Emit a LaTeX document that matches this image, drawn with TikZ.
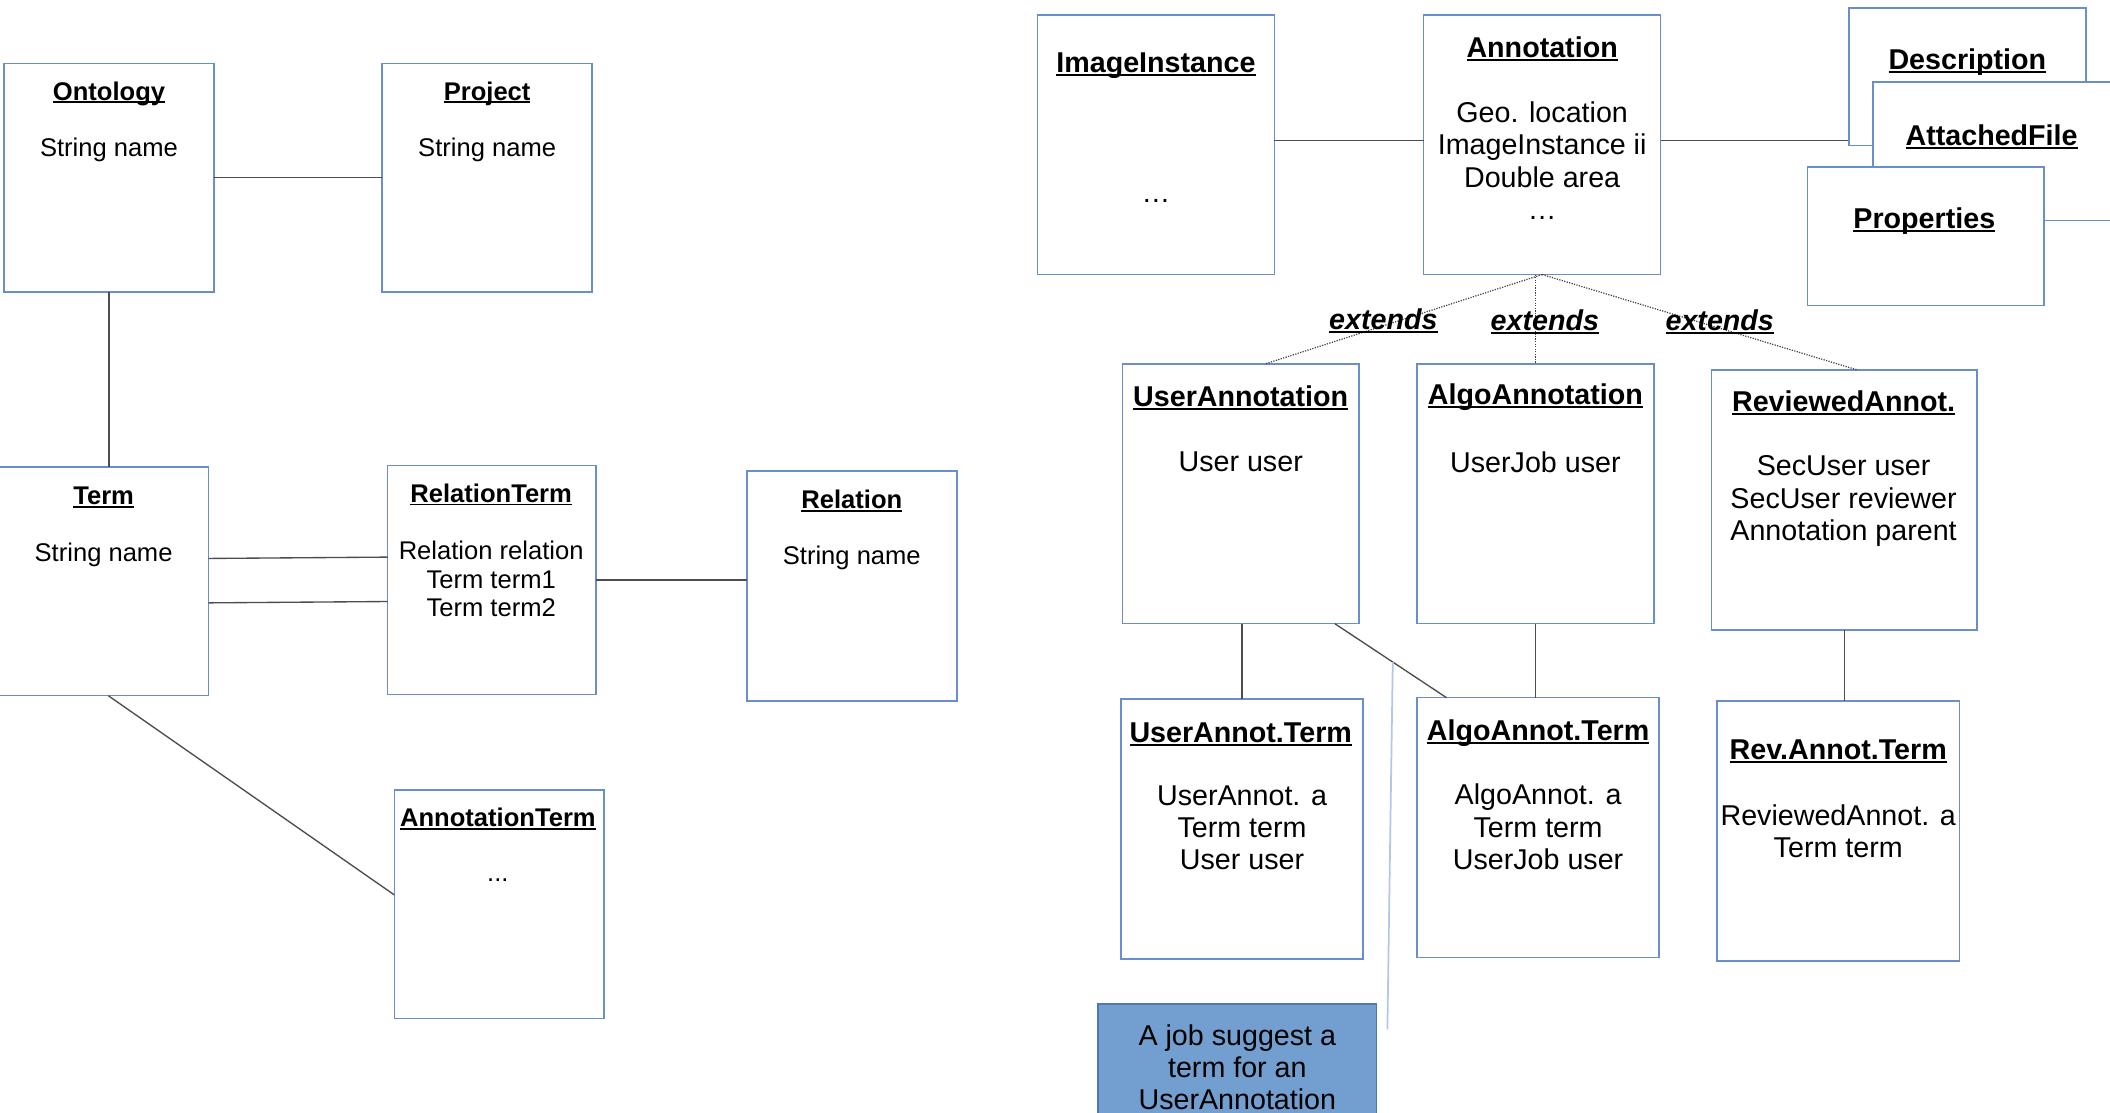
\documentclass[tikz,border=0pt]{standalone}
\usepackage{fontspec}
\setmainfont{Liberation Sans}
\usetikzlibrary{positioning}
\definecolor{umlblue}{HTML}{6A8DCB}
\definecolor{umlink}{HTML}{4D4D4D}
\definecolor{notefill}{HTML}{729FCF}
\definecolor{noteedge}{HTML}{4A78B8}
\definecolor{notelink}{HTML}{B3C8E8}
\newsavebox{\clsbox}
\newcommand{\cname}[1]{\sbox{\clsbox}{#1}\rlap{\usebox{\clsbox}}\rule[-0.12em]{\wd\clsbox}{0.07em}}

\begin{document}
\begin{tikzpicture}[x=1pt, y=-1pt,
        umlbox/.style n args={2}{draw=umlblue, line width=1.1pt, fill=white,
                     inner sep=0pt, outer sep=0pt,
                     minimum width=#1pt, minimum height=#2pt},
        small/.style={font=\fontsize{19}{21}\selectfont, align=center, inner sep=0pt},
        smallhead/.style={small, font=\fontsize{19}{21}\selectfont\bfseries},
        big/.style={font=\fontsize{21.3}{24}\selectfont, align=center, inner sep=0pt},
        bighead/.style={big, font=\fontsize{21.3}{24}\selectfont\bfseries},
        isalabel/.style={bighead, font=\fontsize{21.3}{24}\selectfont\bfseries\itshape},
        link/.style={draw=umlink, line width=1pt},
        isa/.style={draw=black!75, line width=0.9pt, densely dotted},
        note/.style={draw=noteedge, line width=1pt, fill=notefill,
                     font=\fontsize{21.3}{24}\selectfont, align=center,
                     minimum width=207pt, minimum height=94pt},
        pointer/.style={draw=notelink, line width=1.3pt}
    ]
    \fill[white] (0,0) rectangle (1568,827);
    \useasboundingbox (0,0) rectangle (1568,827);

    % ontology side
    \node[umlbox={156}{170}] (onto) at (81,132) {};
    \node[umlbox={156}{170}] (proj) at (362,132) {};
    \node[umlbox={157}{170}] (term) at (76.5,432) {};
    \node[umlbox={155}{170}] (relterm) at (365.5,431) {};
    \node[umlbox={156}{171}] (rel) at (633,435.5) {};
    \node[umlbox={156}{170}] (annterm) at (371,672) {};

    \node[smallhead] (onto-n) at (81,69.5) {\cname{Ontology}};
    \node[small] (onto-a) at (81,111.5) {String name};
    \node[smallhead] (proj-n) at (362,69.5) {\cname{Project}};
    \node[small] (proj-a) at (362,111.5) {String name};
    \node[smallhead] (term-n) at (77,369.5) {\cname{Term}};
    \node[small] (term-a) at (77,412.5) {String name};
    \node[smallhead] (relterm-n) at (365,367.5) {\cname{RelationTerm}};
    \node[small, anchor=north] (relterm-a) at (365,402)
        {Relation relation\\Term term1\\Term term2};
    \node[smallhead] (rel-n) at (633,372.5) {\cname{Relation}};
    \node[small] (rel-a) at (633,414.5) {String name};
    \node[smallhead] (annterm-n) at (370,608.5) {\cname{AnnotationTerm}};
    \node[small] (annterm-a) at (370,654) {...};

    \draw[link] (onto) -- (proj);
    \draw[link] (onto.south) -- (onto.south |- term.north);
    \draw[link] ([yshift=17pt]term.east) -- ([yshift=17pt]relterm.west);
    \draw[link] ([yshift=-16pt]term.east) -- ([yshift=-16pt]relterm.west);
    \draw[link] (relterm.east) -- (relterm.east -| rel.west);
    \draw[link] ([xshift=4pt]term.south) -- ([yshift=7pt]annterm.west);

    % annotation side
    \draw[link] ([yshift=3pt]1234,107.5) -- ([yshift=3pt]1374,107.5);
    \node[umlbox={176}{102}] (desc) at (1462,57) {};
    \node[umlbox={186}{103}] (afile) at (1485,112.5) {};
    \node[umlbox={176}{103}] (props) at (1431,175.5) {};
    \node[bighead] (desc-n) at (1462,46.5) {\cname{Description}};
    \node[bighead] (afile-n) at (1480,101.5) {\cname{AttachedFile}};
    \node[bighead] (props-n) at (1430,164.5) {\cname{Properties}};

    \node[umlbox={176}{193}] (img) at (859,107.5) {};
    \node[umlbox={176}{193}] (annot) at (1146,107.5) {};
    \node[umlbox={176}{193}] (uannot) at (922,367) {};
    \node[umlbox={176}{193}] (aannot) at (1141,367) {};
    \node[umlbox={197}{193}] (rannot) at (1370.5,371.5) {};
    \node[umlbox={180}{193}] (uaterm) at (923,616) {};
    \node[umlbox={180}{193}] (aaterm) at (1143,615) {};
    \node[umlbox={180}{193}] (raterm) at (1366,617.5) {};

    \node[bighead] (img-n) at (859,48.5) {\cname{ImageInstance}};
    \node[big] (img-a) at (859,149) {…};
    \node[bighead] (annot-n) at (1146,36.5) {\cname{Annotation}};
    \node[big, anchor=north] (annot-a) at (1146,75.5)
        {Geo. location\\ImageInstance ii\\Double area\\…};
    \node[bighead] (uannot-n) at (922,295.5) {\cname{UserAnnotation}};
    \node[big] (uannot-a) at (922,343.5) {User user};
    \node[bighead] (aannot-n) at (1141,295.5) {\cname{AlgoAnnotation}};
    \node[big] (aannot-a) at (1141,343.5) {UserJob user};
    \node[bighead] (rannot-n) at (1370,299.5) {\cname{ReviewedAnnot.}};
    \node[big, anchor=north] (rannot-a) at (1370,338.5)
        {SecUser user\\SecUser reviewer\\Annotation parent};
    \node[bighead] (uaterm-n) at (922,545.5) {\cname{UserAnnot.Term}};
    \node[big, anchor=north] (uaterm-a) at (923,583.5)
        {UserAnnot. a\\Term term\\User user};
    \node[bighead] (aaterm-n) at (1143,544.5) {\cname{AlgoAnnot.Term}};
    \node[big, anchor=north] (aaterm-a) at (1143,582.5)
        {AlgoAnnot. a\\Term term\\UserJob user};
    \node[bighead] (raterm-n) at (1366,558.5) {\cname{Rev.Annot.Term}};
    \node[big, anchor=north] (raterm-a) at (1366,597.5)
        {ReviewedAnnot. a\\Term term};

    \draw[link] ([yshift=3pt]img.east) -- ([yshift=3pt]annot.west);
    \draw[isa] (annot.south) -- ([xshift=18pt]uannot.north);
    \draw[isa] (aannot.north |- annot.south) -- (aannot.north);
    \draw[isa] (annot.south) -- ([xshift=10pt]rannot.north);
    \node[isalabel] (isa-u) at (1028,238.5) {\cname{extends}};
    \node[isalabel] (isa-a) at (1148,239.5) {\cname{extends}};
    \node[isalabel] (isa-r) at (1278,239.5) {\cname{extends}};

    \draw[link] (uaterm.north |- uannot.south) -- (uaterm.north);
    \draw[link] ([xshift=70pt]uannot.south) -- ([xshift=-68pt]aaterm.north);
    \draw[link] (aannot.south) -- (aannot.south |- aaterm.north);
    \draw[link] (rannot.south) -- (rannot.south |- raterm.north);

    \node[note] (note) at (919.5,793) {A job suggest a\\term for an\\UserAnnotation};
    \coordinate (tip) at (1035,492);
    \coordinate (foot) at (1031,765);
    \draw[pointer] (tip) -- (foot);
\end{tikzpicture}
\end{document}
